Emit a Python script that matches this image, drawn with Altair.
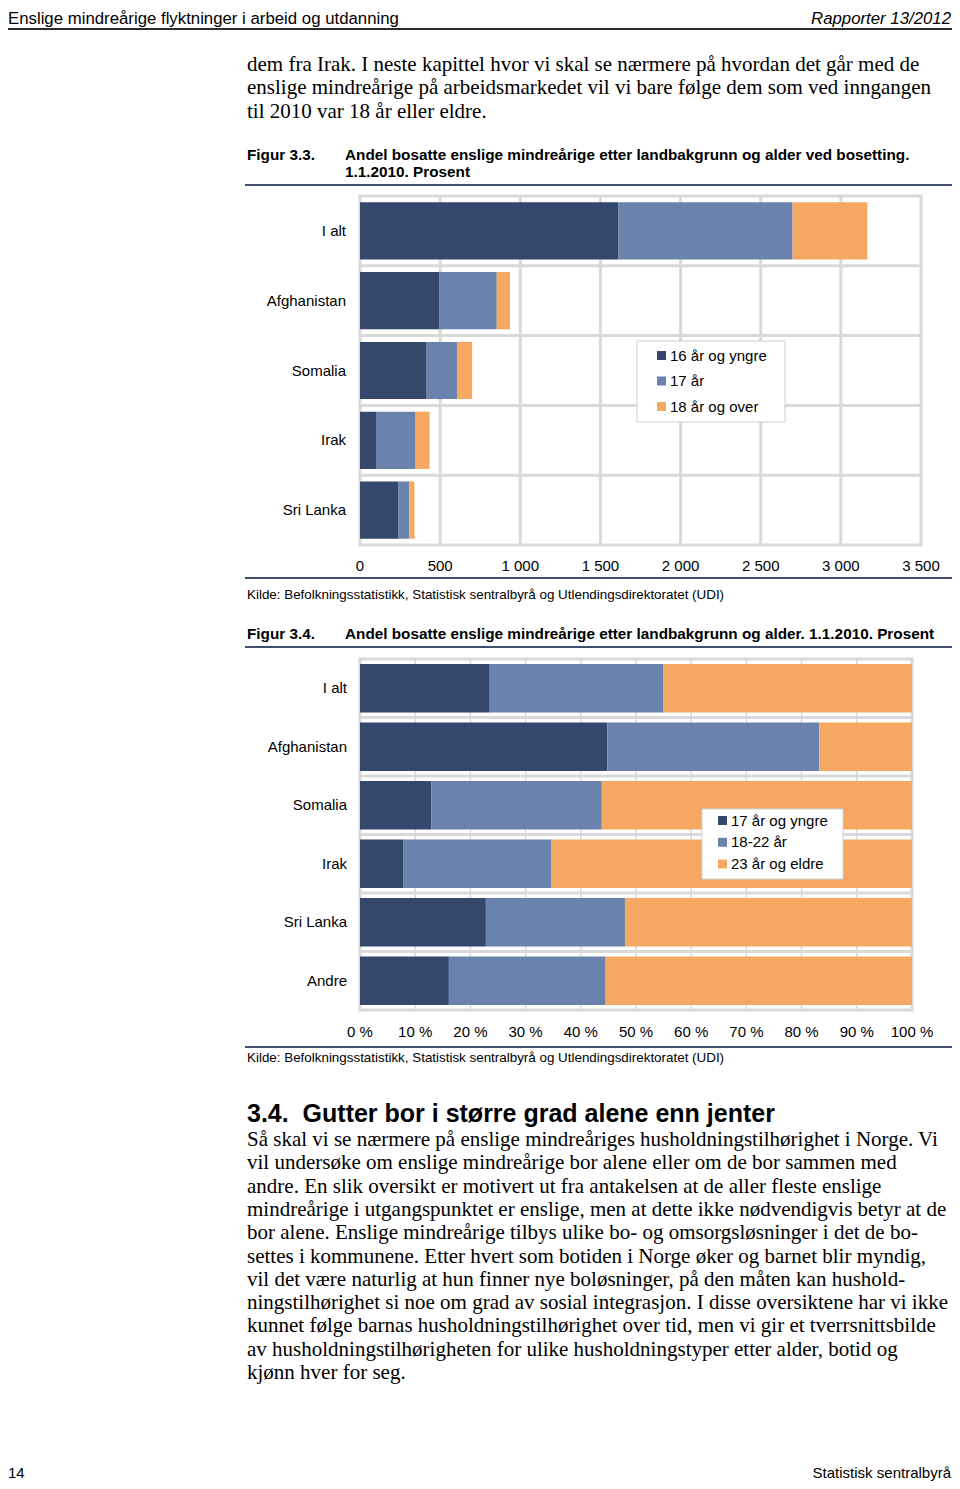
import altair as alt
import pandas as pd

SANS = "Liberation Sans"
SERIF = "Liberation Serif"

# ---------------- data ----------------
header_left = "Enslige mindreårige flyktninger i arbeid og utdanning"
header_right = "Rapporter 13/2012"
intro_lines = [
    "dem fra Irak. I neste kapittel hvor vi skal se nærmere på hvordan det går med de",
    "enslige mindreårige på arbeidsmarkedet vil vi bare følge dem som ved inngangen",
    "til 2010 var 18 år eller eldre.",
]
fig1_label = "Figur 3.3."
fig1_title = [
    "Andel bosatte enslige mindreårige etter landbakgrunn og alder ved bosetting.",
    "1.1.2010. Prosent",
]
countries1 = ["I alt", "Afghanistan", "Somalia", "Irak", "Sri Lanka"]
groups1 = ["16 år og yngre", "17 år", "18 år og over"]
young1 = [1613, 494, 416, 104, 238]
age17_1 = [1086, 359, 189, 243, 69]
older1 = [466, 83, 95, 87, 33]
ticks1 = [0, 500, 1000, 1500, 2000, 2500, 3000, 3500]
tick_labels1 = ["0", "500", "1 000", "1 500", "2 000", "2 500", "3 000", "3 500"]
source_text = "Kilde: Befolkningsstatistikk, Statistisk sentralbyrå og Utlendingsdirektoratet (UDI)"

fig2_label = "Figur 3.4."
fig2_title = ["Andel bosatte enslige mindreårige etter landbakgrunn og alder. 1.1.2010. Prosent"]
countries2 = ["I alt", "Afghanistan", "Somalia", "Irak", "Sri Lanka", "Andre"]
groups2 = ["17 år og yngre", "18-22 år", "23 år og eldre"]
young2 = [23.5, 44.8, 12.9, 7.8, 22.8, 16.1]
mid2 = [31.4, 38.4, 30.9, 26.8, 25.2, 28.4]
old2 = [45.1, 16.8, 56.2, 65.4, 52.0, 55.5]
ticks2 = [0, 10, 20, 30, 40, 50, 60, 70, 80, 90, 100]
tick_labels2 = ["0 %", "10 %", "20 %", "30 %", "40 %", "50 %", "60 %", "70 %", "80 %", "90 %", "100 %"]

section_title = "3.4.\u00a0 Gutter bor i større grad alene enn jenter"
body_lines = [
    "Så skal vi se nærmere på enslige mindreåriges husholdningstilhørighet i Norge. Vi",
    "vil undersøke om enslige mindreårige bor alene eller om de bor sammen med",
    "andre. En slik oversikt er motivert ut fra antakelsen at de aller fleste enslige",
    "mindreårige i utgangspunktet er enslige, men at dette ikke nødvendigvis betyr at de",
    "bor alene. Enslige mindreårige tilbys ulike bo- og omsorgsløsninger i det de bo-",
    "settes i kommunene. Etter hvert som botiden i Norge øker og barnet blir myndig,",
    "vil det være naturlig at hun finner nye boløsninger, på den måten kan hushold-",
    "ningstilhørighet si noe om grad av sosial integrasjon. I disse oversiktene har vi ikke",
    "kunnet følge barnas husholdningstilhørighet over tid, men vi gir et tverrsnittsbilde",
    "av husholdningstilhørigheten for ulike husholdningstyper etter alder, botid og",
    "kjønn hver for seg.",
]
page_number = "14"
publisher = "Statistisk sentralbyrå"

COLORS = ["#35476a", "#6a82ae", "#f5a862"]
GRID = "#d9d9d9"
RULE = "#3f4e6c"
OFF = 8  # page margin


# ---------------- helpers ----------------
def one():
    return alt.Data(values=[{"a": 1}])


def text_lines(lines, x, y0, lh, size, font=SANS, weight="normal", style="normal", align="left"):
    df = pd.DataFrame({"t": lines, "i": list(range(len(lines)))})
    return (
        alt.Chart(df)
        .transform_calculate(yy=f"{y0 - OFF} + datum.i * {lh}")
        .mark_text(align=align, baseline="middle", font=font, fontSize=size,
                   fontWeight=weight, fontStyle=style, color="#000000")
        .encode(x=alt.value(x - OFF), y=alt.Y("yy:Q", scale=None, axis=None), text="t:N")
    )


def hrule(x1, x2, y, color, w):
    return alt.Chart(one()).mark_rule(color=color, strokeWidth=w).encode(
        x=alt.value(x1 - OFF), x2=alt.value(x2 - OFF), y=alt.value(y - OFF))


def bar_block(countries, groups, series, xdom, xpx, ypx, pin, pout, label_x, tick_vals, tick_labels,
              tick_y, vgrid_w, legend_box, legend_sq_x, legend_rows):
    x_sc = alt.Scale(domain=xdom, range=[xpx[0] - OFF, xpx[1] - OFF])
    y_sc = alt.Scale(domain=countries, range=[ypx[0] - OFF, ypx[1] - OFF],
                     paddingInner=pin, paddingOuter=pout)
    yq_sc = alt.Scale(domain=[0, len(countries)], range=[ypx[0] - OFF, ypx[1] - OFF])
    c_sc = alt.Scale(domain=groups, range=COLORS)

    rows = []
    for k, (g, vals) in enumerate(zip(groups, series)):
        for c, v in zip(countries, vals):
            rows.append({"land": c, "gruppe": g, "verdi": v, "k": k})
    df = pd.DataFrame(rows)

    layers = []
    # vertical gridlines
    vg = pd.DataFrame({"v": tick_vals})
    vg["w"] = [3 if (v == tick_vals[0] or v == tick_vals[-1]) else vgrid_w for v in tick_vals]
    layers.append(
        alt.Chart(vg).mark_rule(color=GRID).encode(
            x=alt.X("v:Q", scale=x_sc, axis=None),
            y=alt.value(ypx[0] - OFF), y2=alt.value(ypx[1] - OFF),
            strokeWidth=alt.StrokeWidth("w:Q", scale=None, legend=None))
    )
    # horizontal gridlines
    hg = pd.DataFrame({"k": list(range(len(countries) + 1))})
    layers.append(
        alt.Chart(hg).mark_rule(color=GRID, strokeWidth=3).encode(
            y=alt.Y("k:Q", scale=yq_sc, axis=None),
            x=alt.value(xpx[0] - OFF - 1.5), x2=alt.value(xpx[1] - OFF + 1.5))
    )
    # bars
    layers.append(
        alt.Chart(df).mark_bar().encode(
            x=alt.X("verdi:Q", scale=x_sc, axis=None, stack="zero"),
            y=alt.Y("land:N", scale=y_sc, axis=None, sort=countries),
            color=alt.Color("gruppe:N", scale=c_sc, legend=None),
            order=alt.Order("k:Q"))
    )
    # category labels
    layers.append(
        alt.Chart(pd.DataFrame({"land": countries})).mark_text(
            align="right", baseline="middle", font=SANS, fontSize=15, color="#000000").encode(
            x=alt.value(label_x - OFF),
            y=alt.Y("land:N", scale=y_sc, axis=None, sort=countries),
            text="land:N")
    )
    # tick labels
    layers.append(
        alt.Chart(pd.DataFrame({"v": tick_vals, "l": tick_labels})).mark_text(
            align="center", baseline="middle", font=SANS, fontSize=15, color="#000000").encode(
            x=alt.X("v:Q", scale=x_sc, axis=None), y=alt.value(tick_y - OFF), text="l:N")
    )
    # legend box
    bx1, by1, bx2, by2 = legend_box
    layers.append(
        alt.Chart(one()).mark_rect(fill="white", stroke="#cfcfcf", strokeWidth=1).encode(
            x=alt.value(bx1 - OFF), x2=alt.value(bx2 - OFF),
            y=alt.value(by1 - OFF), y2=alt.value(by2 - OFF))
    )
    lg_sc = alt.Scale(type="point", domain=groups, range=[legend_rows[0] - OFF, legend_rows[1] - OFF], padding=0)
    lg = pd.DataFrame({"g": groups})
    layers.append(
        alt.Chart(lg).mark_square(size=81, opacity=1, filled=True).encode(
            x=alt.value(legend_sq_x - OFF),
            y=alt.Y("g:N", scale=lg_sc, axis=None, sort=groups),
            color=alt.Color("g:N", scale=c_sc, legend=None))
    )
    layers.append(
        alt.Chart(lg).mark_text(align="left", baseline="middle", font=SANS, fontSize=15,
                                color="#000000").encode(
            x=alt.value(legend_sq_x + 8.5 - OFF),
            y=alt.Y("g:N", scale=lg_sc, axis=None, sort=groups),
            text="g:N")
    )
    return layers


layers = []
# header
layers.append(text_lines([header_left], 8, 18.8, 0, 16.8))
layers.append(text_lines([header_right], 951, 18.8, 0, 16.8, style="italic", align="right"))
layers.append(hrule(8, 955, 29, "#2b2b2b", 2))
# intro paragraph
layers.append(text_lines(intro_lines, 247, 65, 23.3, 21, font=SERIF))

# figure 3.3
layers.append(text_lines([fig1_label], 247, 155, 0, 15.3, weight="bold"))
layers.append(text_lines(fig1_title, 345, 155, 17, 15.3, weight="bold"))
layers.append(hrule(245, 955, 185, RULE, 2))
layers += bar_block(countries1, groups1, [young1, age17_1, older1], [0, 3500], [360, 921], [196, 545],
                    0.18, 0.09, 346, ticks1, tick_labels1, 566, 3,
                    (637, 341, 785, 422), 661.5, (355.5, 406.5))
layers.append(hrule(245, 955, 578, RULE, 2))
layers.append(text_lines([source_text], 247, 595, 0, 13.4))

# figure 3.4
layers.append(text_lines([fig2_label], 247, 634, 0, 15.3, weight="bold"))
layers.append(text_lines(fig2_title, 345, 634, 17, 15.3, weight="bold"))
layers.append(hrule(245, 955, 647, RULE, 2))
layers += bar_block(countries2, groups2, [young2, mid2, old2], [0, 100], [360, 912], [659, 1010],
                    0.17, 0.085, 347, ticks2, tick_labels2, 1032, 1.5,
                    (702, 809, 843, 879), 722.5, (820.5, 864))
layers.append(hrule(245, 955, 1047, RULE, 2))
layers.append(text_lines([source_text], 247, 1058, 0, 13.4))

# section
layers.append(text_lines([section_title], 247, 1114, 0, 25, weight="bold"))
layers.append(text_lines(body_lines, 247, 1140, 23.3, 21, font=SERIF))

# footer
layers.append(text_lines([page_number], 8, 1473, 0, 15))
layers.append(text_lines([publisher], 951, 1473, 0, 15, align="right"))

chart = (
    alt.layer(*layers)
    .resolve_scale(x="independent", y="independent", color="independent", strokeWidth="independent")
    .properties(width=944, height=1473, autosize=alt.AutoSizeParams(type="none"), padding=0,
                background="white")
    .configure_view(stroke=None)
)

chart.save("out.html", embed_options={"renderer": "svg", "actions": False})
